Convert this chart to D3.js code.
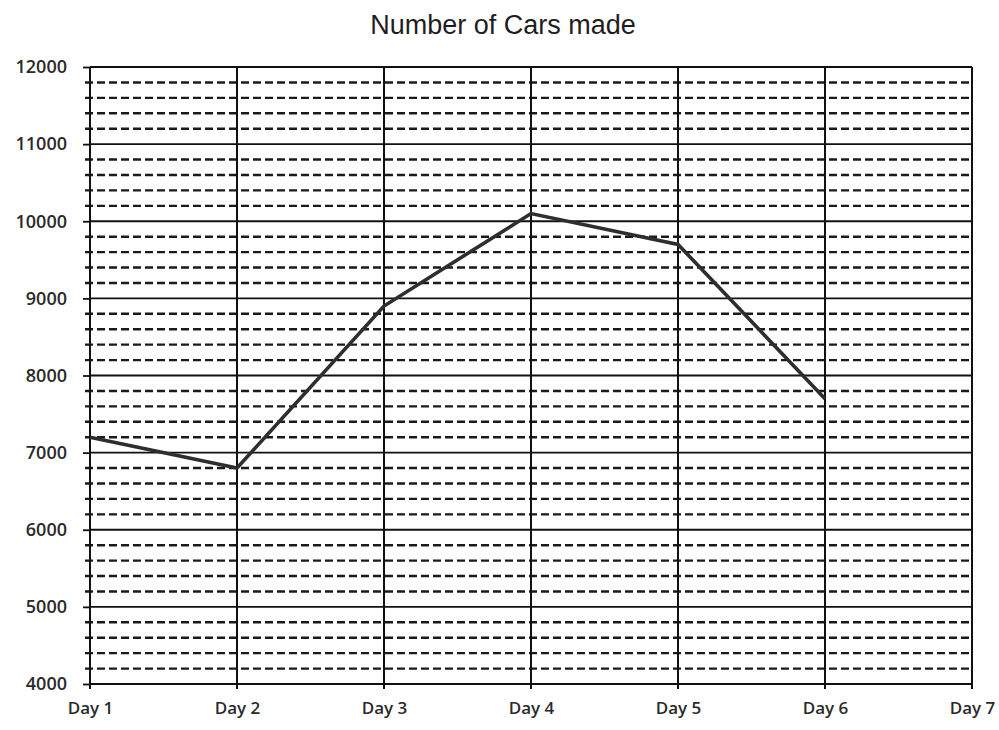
<!DOCTYPE html>
<html>
<head>
<meta charset="utf-8">
<script src="https://cdn.jsdelivr.net/npm/d3@7"></script>
<style>
  body { margin: 0; background: #fff; }
  svg { display: block; }
</style>
</head>
<body>
<div id="chart"></div>
<script>
// Chart data
const days = ["Day 1", "Day 2", "Day 3", "Day 4", "Day 5", "Day 6", "Day 7"];
const carsMade = [7200, 6800, 8900, 10100, 9700, 7700];
const yTicks = [4000, 5000, 6000, 7000, 8000, 9000, 10000, 11000, 12000];
const minorStep = 200;

const width = 999;
const height = 730;
const margin = { top: 67, right: 27, bottom: 46, left: 90 };
const innerWidth = width - margin.left - margin.right;
const innerHeight = height - margin.top - margin.bottom;

const labelFont = "'Open Sans', 'DejaVu Sans', sans-serif";

const svg = d3
  .select("#chart")
  .append("svg")
  .attr("width", width)
  .attr("height", height);

// Title
svg.append("text")
  .attr("x", 503)
  .attr("y", 34)
  .attr("text-anchor", "middle")
  .attr("font-family", "'Liberation Sans', Arial, sans-serif")
  .attr("font-size", 27)
  .attr("fill", "#1e1e1e")
  .text("Number of Cars made");

const g = svg.append("g")
  .attr("transform", `translate(${margin.left},${margin.top})`);

const x = d3.scalePoint()
  .domain(days)
  .range([0, innerWidth]);

const y = d3.scaleLinear()
  .domain([4000, 12000])
  .range([innerHeight, 0]);

// Minor dashed gridlines
const minorVals = d3.range(4000, 12000, minorStep).filter((v) => v % 1000 !== 0);
g.append("g")
  .selectAll("line")
  .data(minorVals)
  .enter()
  .append("line")
  .attr("x1", -5)
  .attr("x2", innerWidth)
  .attr("y1", (d) => y(d))
  .attr("y2", (d) => y(d))
  .style("stroke", "#1a1a1a")
  .style("stroke-width", 2.4)
  .style("stroke-dasharray", "8,4");

// Major gridlines
g.append("g")
  .selectAll("line")
  .data(yTicks)
  .enter()
  .append("line")
  .attr("x1", 0)
  .attr("x2", innerWidth)
  .attr("y1", (d) => y(d))
  .attr("y2", (d) => y(d))
  .style("stroke", "#111")
  .style("stroke-width", 1.8);

// Vertical gridlines at each day
g.append("g")
  .selectAll("line")
  .data(days)
  .enter()
  .append("line")
  .attr("x1", (d) => x(d))
  .attr("x2", (d) => x(d))
  .attr("y1", 0)
  .attr("y2", innerHeight + 5)
  .style("stroke", "#111")
  .style("stroke-width", 2);

// Y axis
const yAxis = d3.axisLeft(y)
  .tickValues(yTicks)
  .tickSize(7)
  .tickPadding(16)
  .tickFormat(d3.format("d"));

g.append("g")
  .attr("class", "y-axis")
  .call(yAxis)
  .attr("font-family", labelFont)
  .attr("font-size", 18)
  .attr("font-weight", 600)
  .call((a) => a.select(".domain").remove())
  .call((a) => a.selectAll(".tick line").attr("stroke", "#111").attr("stroke-width", 1.8))
  .call((a) => a.selectAll(".tick text").attr("fill", "#2a2a2a"));

// X axis labels
const xAxis = d3.axisBottom(x).tickSize(0).tickPadding(18);
g.append("g")
  .attr("class", "x-axis")
  .attr("transform", `translate(0,${innerHeight})`)
  .call(xAxis)
  .attr("font-family", labelFont)
  .attr("font-size", 17)
  .attr("font-weight", 600)
  .call((a) => a.select(".domain").remove())
  .call((a) => a.selectAll(".tick text").attr("fill", "#2a2a2a"));

// Data line
const line = d3.line()
  .x((d, i) => x(days[i]))
  .y((d) => y(d));

g.append("path")
  .datum(carsMade)
  .attr("d", line)
  .style("fill", "none")
  .style("stroke", "#2e2e2e")
  .style("stroke-width", 3.6)
  .style("stroke-linejoin", "miter");
</script>
</body>
</html>
